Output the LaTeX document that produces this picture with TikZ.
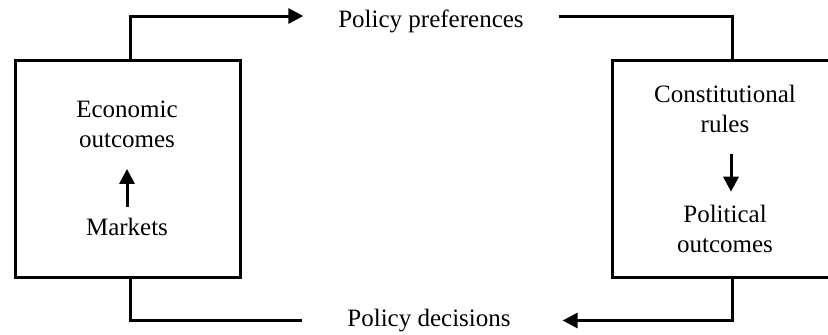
\documentclass[tikz,border=0pt]{standalone}
\usepackage{fontspec}
\setmainfont{Liberation Serif}
\usetikzlibrary{arrows.meta, positioning}

\begin{document}
\begin{tikzpicture}[
  x=0.5pt, y=-0.5pt,
  >={Triangle[length=7.5pt,width=7.5pt]},
  font=\fontsize{12.5}{15}\selectfont,
  line width=1.5pt,
  box/.style={
    rectangle, draw,
    inner sep=0pt,
    minimum height=108.5pt
  },
  txt/.style={align=center, inner sep=0pt},
  flowtxt/.style={txt, outer ysep=0pt},
]
\useasboundingbox (0,0) rectangle (828,334);

% --- Boxes ---
\node[box, minimum width=112.5pt] (ECON) at (127.5,168.5) {};
\node[box, minimum width=120pt] (POL) at (732,168.5) {};

% --- Inside left box ---
\node[txt] (OUTE) at (127,124) {Economic\\ outcomes};
\node[txt] (MKT) at (127,227) {Markets};

% --- Inside right box ---
\node[txt] (RULES) at (725,109) {Constitutional\\ rules};
\node[txt] (OUTP) at (725,229) {Political\\ outcomes};

% --- Flows between boxes ---
\node[flowtxt, outer xsep=17.5pt] (PREF) at (431,21) {Policy preferences};
\node[flowtxt, outer xsep=22.5pt] (DEC) at (429,320.5) {Policy decisions};

% --- Arrows ---
\draw[->, shorten <=5pt, shorten >=10pt] (MKT) -- (OUTE);
\draw[->, shorten <=10pt, shorten >=6pt] ([xshift=3pt]RULES.south) -- ([xshift=3pt]OUTP.north);

\draw[->] ([xshift=1.25pt]ECON.north) |- ([yshift=2.5pt]PREF.west);
\draw ([yshift=2.5pt]PREF.east) -| (POL.north);

\draw[->, shorten >=3.5pt] (POL.south) |- (DEC.east);
\draw ([xshift=1.25pt]ECON.south) |- (DEC.west);

\end{tikzpicture}
\end{document}
